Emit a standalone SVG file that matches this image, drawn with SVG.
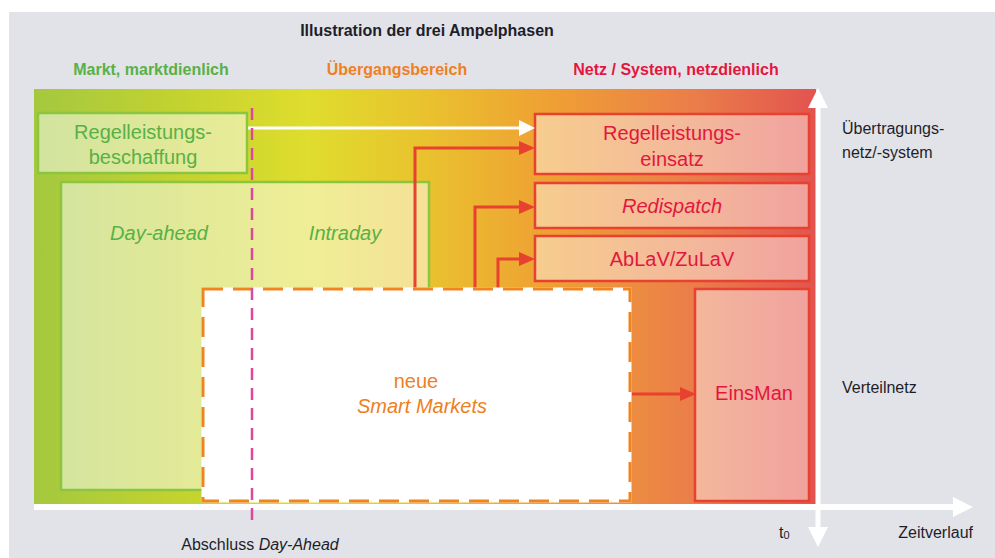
<svg xmlns="http://www.w3.org/2000/svg" width="995" height="558" viewBox="0 0 995 558">
<defs>
<linearGradient id="bg" gradientUnits="userSpaceOnUse" x1="34" y1="0" x2="816" y2="0">
<stop offset="0" stop-color="#a4c83f"/>
<stop offset="0.18" stop-color="#c2d230"/>
<stop offset="0.35" stop-color="#dfdd2d"/>
<stop offset="0.5" stop-color="#e9c22e"/>
<stop offset="0.65" stop-color="#efa233"/>
<stop offset="0.85" stop-color="#ea7c4a"/>
<stop offset="1" stop-color="#e3534f"/>
</linearGradient>
<marker id="ar" markerUnits="userSpaceOnUse" markerWidth="16" markerHeight="14" refX="0" refY="7" orient="auto">
<path d="M0,0 L16,7 L0,14 z" fill="#e8412f"/>
</marker>
<marker id="aw" markerUnits="userSpaceOnUse" markerWidth="16" markerHeight="16" refX="0" refY="8" orient="auto">
<path d="M0,0 L16,8 L0,16 z" fill="#ffffff"/>
</marker>
<marker id="ax" markerUnits="userSpaceOnUse" markerWidth="20" markerHeight="20" refX="0" refY="10" orient="auto-start-reverse">
<path d="M0,0 L20,10 L0,20 z" fill="#ffffff"/>
</marker>
</defs>
<style>
text{font-family:"Liberation Sans",Arial,sans-serif}
.hd{font-size:16px;font-weight:bold;text-anchor:middle}
.g{fill:#58b146}
.o{fill:#ee7f24}
.r{fill:#e3173e}
.d{fill:#1e1e2a}
.bt{font-size:20px;text-anchor:middle}
.it{font-style:italic}
.lb{font-size:16px}
.gbox{fill:#ffffff;fill-opacity:0.5;stroke:#8cc53e;stroke-width:2.5}
.rbox{fill:#ffffff;fill-opacity:0.45;stroke:#e8412f;stroke-width:2.5}
.rl{fill:none;stroke:#e8412f;stroke-width:3;marker-end:url(#ar)}
</style>
<rect x="0" y="0" width="995" height="558" fill="#ffffff"/>
<rect x="9" y="12" width="986" height="546" fill="#e2e3e8"/>
<rect x="34" y="89" width="782" height="415" fill="url(#bg)"/>

<text class="hd d" x="427" y="36">Illustration der drei Ampelphasen</text>
<text class="hd g" x="151" y="75">Markt, marktdienlich</text>
<text class="hd o" x="397" y="75">Übergangsbereich</text>
<text class="hd r" x="676" y="75">Netz / System, netzdienlich</text>

<g id="markt">
<rect class="gbox" x="61" y="182" width="368" height="308"/>
<text class="bt g it" x="159" y="240">Day-ahead</text>
<text class="bt g it" x="345" y="240">Intraday</text>
</g>

<g id="beschaffung">
<rect class="gbox" x="38" y="113" width="209" height="60"/>
<text class="bt g" x="143" y="139">Regelleistungs-</text>
<text class="bt g" x="143" y="164">beschaffung</text>
</g>

<g id="einsatz">
<rect class="rbox" x="535" y="114" width="274" height="60"/>
<text class="bt r" x="672" y="140">Regelleistungs-</text>
<text class="bt r" x="672" y="166">einsatz</text>
</g>

<g id="redispatch">
<rect class="rbox" x="535" y="183" width="274" height="45"/>
<text class="bt r it" x="672" y="213">Redispatch</text>
</g>

<g id="ablav">
<rect class="rbox" x="535" y="236" width="274" height="45"/>
<text class="bt r" x="672" y="266">AbLaV/ZuLaV</text>
</g>

<g id="einsman">
<rect class="rbox" x="695" y="289" width="114" height="212"/>
<text class="bt r" x="754" y="400">EinsMan</text>
</g>

<g id="connectors">
<path d="M248,128 H519" fill="none" stroke="#ffffff" stroke-width="3" marker-end="url(#aw)"/>
<path class="rl" d="M415,290 V148 H519"/>
<path class="rl" d="M475,290 V207 H519"/>
<path class="rl" d="M498,290 V259 H519"/>
<path class="rl" d="M632,394 H680"/>
</g>

<g id="smartmarkets">
<rect x="203" y="289" width="427" height="212" fill="#ffffff" stroke="#ffffff" stroke-width="3"/>
<rect x="203" y="289" width="427" height="212" fill="none" stroke="#ef8420" stroke-width="3" stroke-dasharray="20 10"/>
<text class="bt o" x="416" y="388">neue</text>
<text class="bt o it" x="422" y="413">Smart Markets</text>
</g>

<g id="axes">
<path d="M34,507 H953" fill="none" stroke="#ffffff" stroke-width="6" marker-end="url(#ax)"/>
<path d="M818,527 V108" fill="none" stroke="#ffffff" stroke-width="5" marker-start="url(#ax)" marker-end="url(#ax)"/>
</g>

<path id="dayahead-line" d="M252,108 V527" fill="none" stroke="#d94a9e" stroke-width="2.5" stroke-dasharray="12 8"/>

<text class="lb d" x="842" y="134">Übertragungs-</text>
<text class="lb d" x="842" y="158">netz/-system</text>
<text class="lb d" x="842" y="393">Verteilnetz</text>
<text class="lb d" x="779" y="538">t<tspan font-size="11" dy="1">0</tspan></text>
<text class="lb d" x="973" y="538" text-anchor="end">Zeitverlauf</text>
<text class="lb d" x="260" y="550" text-anchor="middle">Abschluss <tspan font-style="italic">Day-Ahead</tspan></text>
</svg>
